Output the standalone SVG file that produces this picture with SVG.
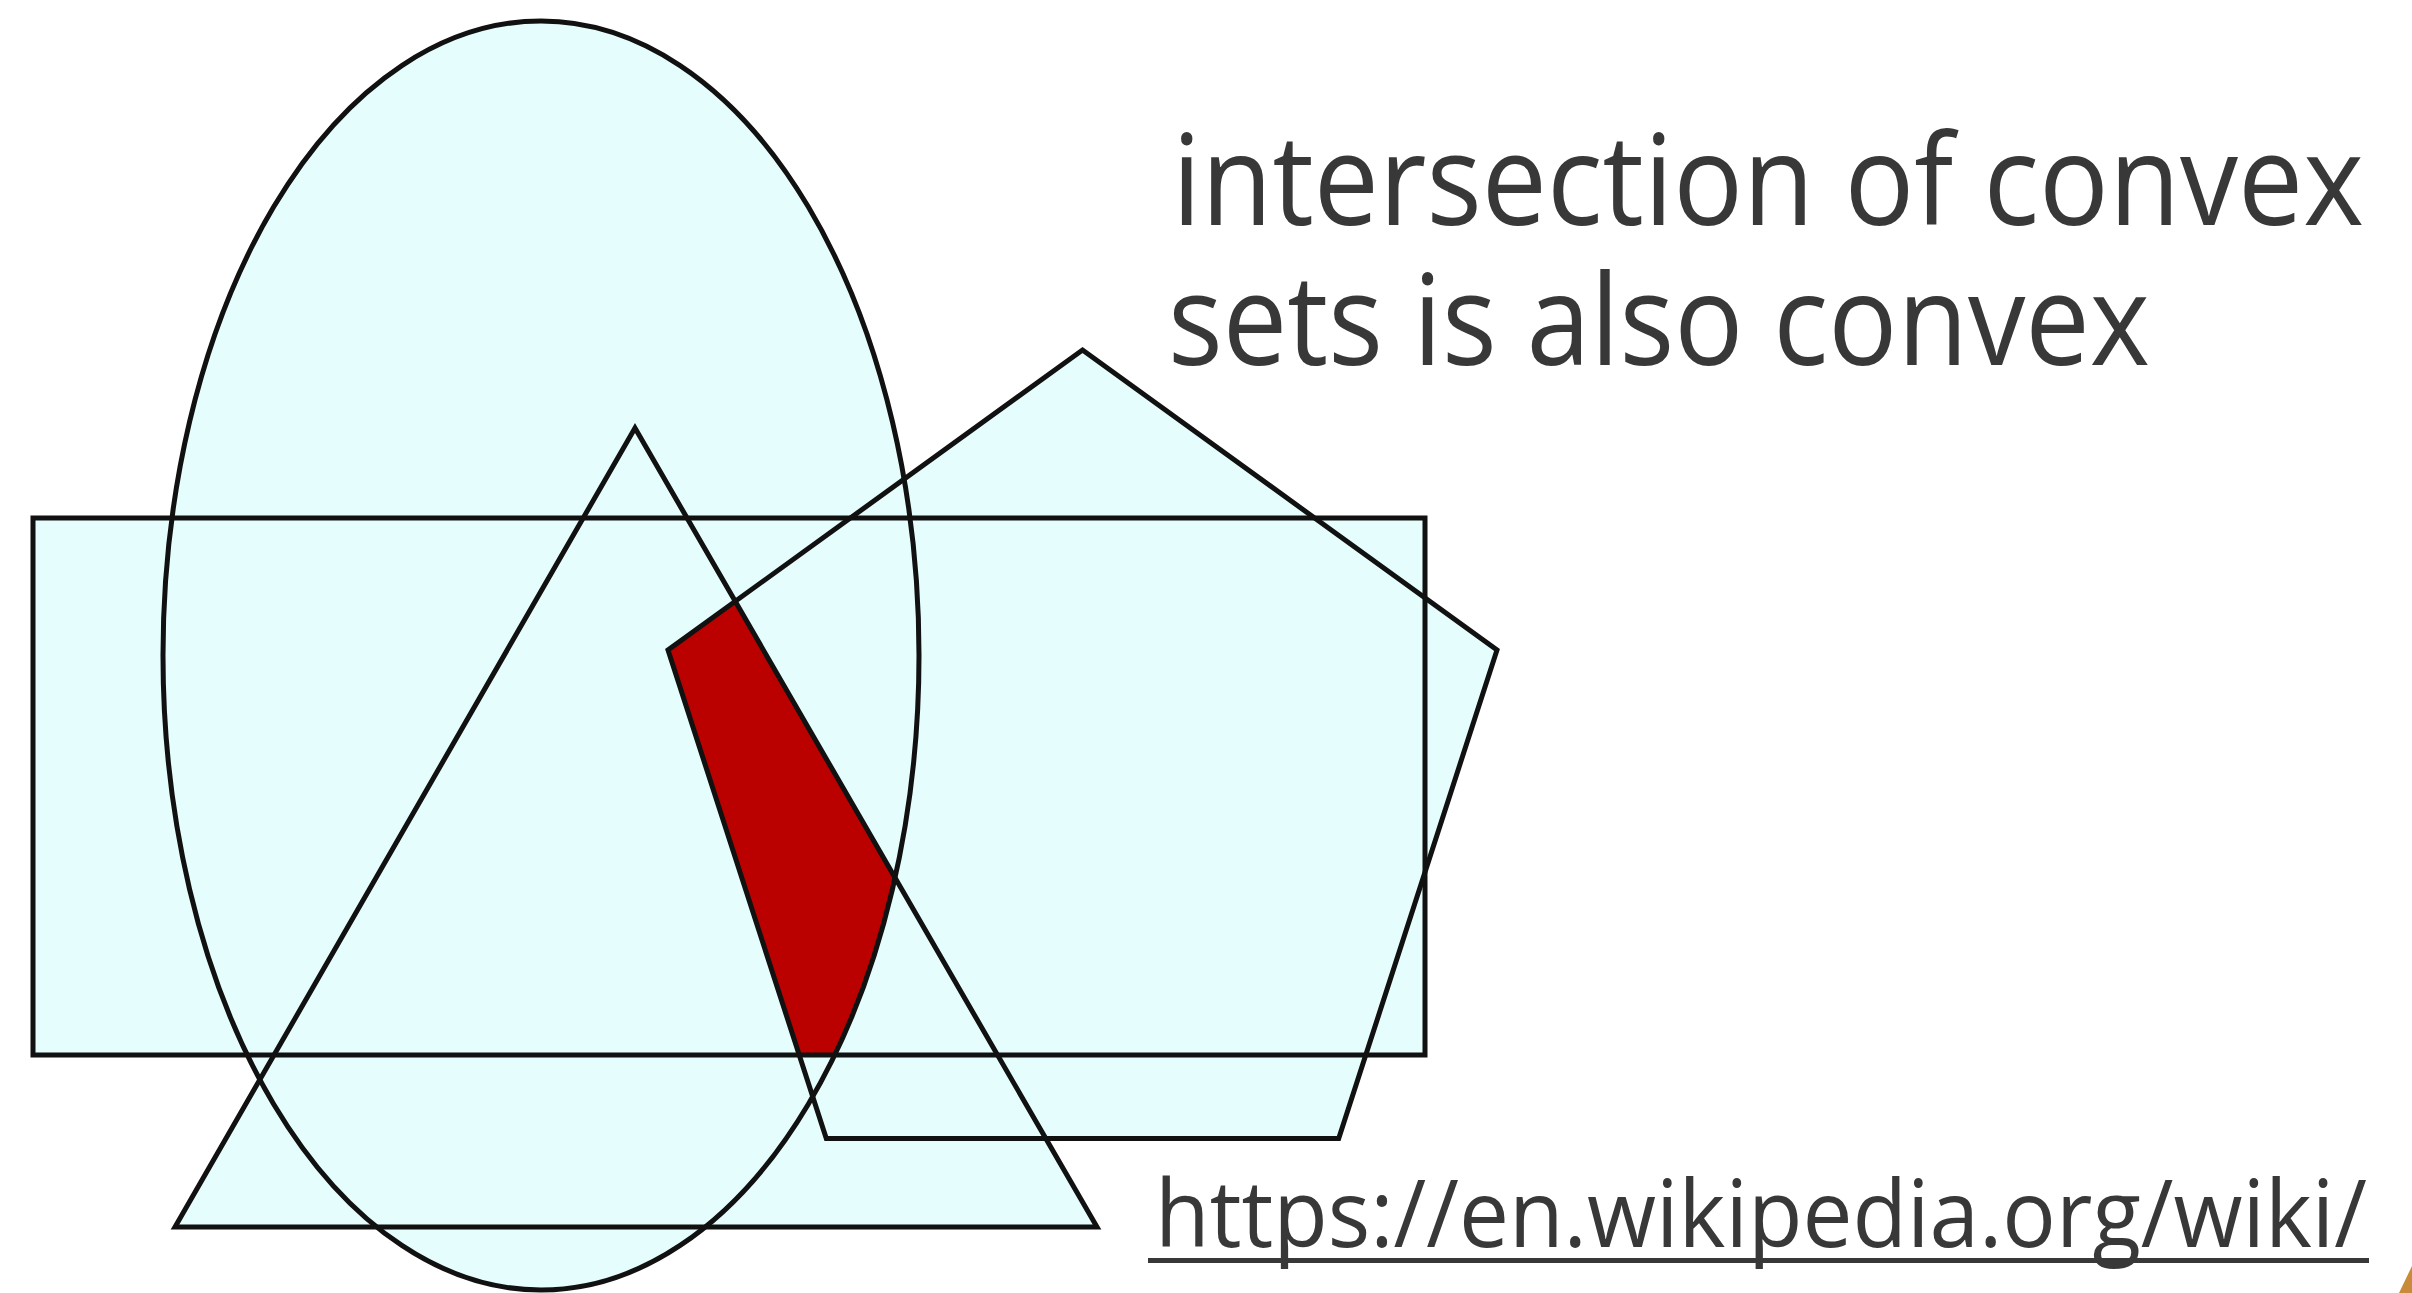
<svg xmlns="http://www.w3.org/2000/svg" width="2412" height="1293" viewBox="0 0 2412 1293">
<style>
.fill{fill:#e5fdfd;stroke:none}
.edge{fill:none;stroke:#111;stroke-width:5;stroke-linejoin:miter}
.title{font-family:"Open Sans","Liberation Sans",sans-serif;font-size:113px;fill:#383838}
.url{font-family:"Open Sans","Liberation Sans",sans-serif;font-size:88px;fill:#383838}
</style>
<rect width="2412" height="1293" fill="#ffffff"/>
<g id="fills">
<ellipse class="fill" cx="541" cy="655.5" rx="378" ry="634.5"/>
<rect class="fill" x="33" y="518" width="1392" height="537"/>
<polygon class="fill" points="1082.5,350 1497,650 1338.7,1138.5 826.3,1138.5 668,650"/>
<polygon class="fill" points="635,428 1097,1227 175,1227"/>
</g>
<g id="intersection">
<path d="M668,650 L735.3,601.4 L895.1,877.8 A378,634.5 0 0,1 834.7,1055 L799.2,1055 Z" fill="#bb0000" stroke="none"/>
</g>
<g id="ellipse"><ellipse class="edge" cx="541" cy="655.5" rx="378" ry="634.5"/></g>
<g id="rectangle"><rect class="edge" x="33" y="518" width="1392" height="537"/></g>
<g id="pentagon"><polygon class="edge" points="1082.5,350 1497,650 1338.7,1138.5 826.3,1138.5 668,650"/></g>
<g id="triangle"><polygon class="edge" points="635,428 1097,1227 175,1227"/></g>
<g id="connectors"></g>
<g id="caption">
<text class="title" transform="translate(1172,225) scale(1,1.12)" x="0" y="0" textLength="1192" lengthAdjust="spacingAndGlyphs">intersection of convex</text>
<text class="title" transform="translate(1168,365) scale(1,1.12)" x="0" y="0" textLength="982" lengthAdjust="spacingAndGlyphs">sets is also convex</text>
</g>
<g id="link">
<text class="url" transform="translate(1155,1247) scale(1,1.06)" x="0" y="0" textLength="1212" lengthAdjust="spacingAndGlyphs">https://en.wikipedia.org/wiki/</text>
<rect x="1148" y="1258" width="1221" height="5" fill="#383838"/>
</g>
<polygon points="2399,1293 2412,1266 2412,1293" fill="#c98a3a"/>
</svg>
